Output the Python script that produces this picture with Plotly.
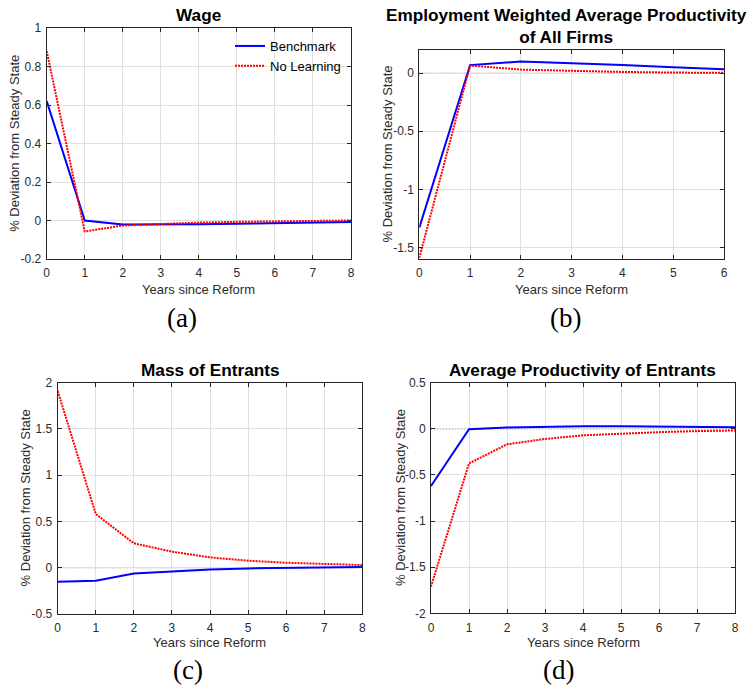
import plotly.graph_objects as go

# ---------------- data ----------------
years8 = [0, 1, 2, 3, 4, 5, 6, 7, 8]
years6 = [0, 1, 2, 3, 4, 5, 6]

wage_bench = [0.62, 0.0, -0.021, -0.021, -0.02, -0.017, -0.014, -0.011, -0.008]
wage_nolearn = [0.88, -0.057, -0.026, -0.017, -0.011, -0.007, -0.004, -0.002, 0.0]

prod_bench = [-1.33, 0.07, 0.10, 0.088, 0.071, 0.051, 0.034]
prod_nolearn = [-1.59, 0.066, 0.031, 0.02, 0.011, 0.006, 0.003]

mass_bench = [-0.152, -0.141, -0.062, -0.036, -0.018, -0.007, -0.003, 0.003, 0.007]
mass_nolearn = [1.91, 0.58, 0.264, 0.174, 0.112, 0.076, 0.054, 0.04, 0.029]

entprod_bench = [-0.62, -0.004, 0.014, 0.025, 0.029, 0.029, 0.025, 0.02, 0.016]
entprod_nolearn = [-1.71, -0.375, -0.168, -0.11, -0.071, -0.05, -0.036, -0.025, -0.018]

titles = ["Wage", "Employment Weighted Average Productivity<br>of All Firms",
          "Mass of Entrants", "Average Productivity of Entrants"]
captions = ["(a)", "(b)", "(c)", "(d)"]
series_names = ["Benchmark", "No Learning"]

ytick_a = [-0.2, 0, 0.2, 0.4, 0.6, 0.8, 1]
ytick_a_text = ["-0.2", "0", "0.2", "0.4", "0.6", "0.8", "1"]
ytick_b = [-1.5, -1, -0.5, 0]
ytick_b_text = ["-1.5", "-1", "-0.5", "0"]
ytick_c = [-0.5, 0, 0.5, 1, 1.5, 2]
ytick_c_text = ["-0.5", "0", "0.5", "1", "1.5", "2"]
ytick_d = [-2, -1.5, -1, -0.5, 0, 0.5]
ytick_d_text = ["-2", "-1.5", "-1", "-0.5", "0", "0.5"]

W, H = 749, 685


def px(x):
    return x / W


def py(y):
    return 1 - y / H


fig = go.Figure()

BLUE = "#0000ff"
RED = "#ff0000"
AXC = "#262626"
GRID = "#e0e0e0"
SANS = "Liberation Sans, Arial, sans-serif"

panels = [
    (years8, wage_bench, wage_nolearn, "x", "y", (46.7, 351), (28, 259), [-0.2, 1], [0, 8], ytick_a, ytick_a_text),
    (years6, prod_bench, prod_nolearn, "x2", "y2", (419.3, 724), (50, 259), [-1.6, 0.2], [0, 6], ytick_b, ytick_b_text),
    (years8, mass_bench, mass_nolearn, "x3", "y3", (57.7, 362.3), (382.7, 614), [-0.5, 2], [0, 8], ytick_c, ytick_c_text),
    (years8, entprod_bench, entprod_nolearn, "x4", "y4", (431, 735), (382.7, 613.3), [-2, 0.5], [0, 8], ytick_d, ytick_d_text),
]

layout_axes = {}
for i, (xs, b, n, xa, ya, xd, yd, yr, xr, yt, ytt) in enumerate(panels):
    fig.add_shape(type="line", xref=f"{xa} domain", yref=ya, x0=0, x1=1, y0=0, y1=0,
                  line=dict(color="#333333", width=1, dash="1px,2px"), layer="below")
    fig.add_trace(go.Scatter(x=xs, y=b, mode="lines", name=series_names[0],
                             line=dict(color=BLUE, width=2), xaxis=xa, yaxis=ya,
                             showlegend=(i == 0)))
    fig.add_trace(go.Scatter(x=xs, y=n, mode="lines", name=series_names[1],
                             line=dict(color=RED, width=2, dash="2px,1px"), xaxis=xa, yaxis=ya,
                             showlegend=(i == 0)))
    xkey = "xaxis" + ("" if i == 0 else str(i + 1))
    ykey = "yaxis" + ("" if i == 0 else str(i + 1))
    common = dict(showline=True, linecolor=AXC, linewidth=1, mirror="ticks",
                  ticks="inside", ticklen=4, tickcolor=AXC, tickwidth=1,
                  showgrid=True, gridcolor=GRID, gridwidth=1, zeroline=False,
                  automargin=False,
                  tickfont=dict(family=SANS, size=12, color="#2b2b2b"))
    layout_axes[xkey] = dict(domain=[px(xd[0]), px(xd[1])], range=xr, anchor=ya,
                             tickmode="linear", tick0=0, dtick=1, ticklabelstandoff=3, **common)
    layout_axes[ykey] = dict(domain=[py(yd[1]), py(yd[0])], range=yr, anchor=xa,
                             tickmode="array", tickvals=yt, ticktext=ytt, ticklabelstandoff=2, **common)

fig.update_layout(**layout_axes)

ann = []
title_pos = [(198, 15), (566, 25.7), (210, 370), (582.7, 370)]
for t, (x, y) in zip(titles, title_pos):
    ann.append(dict(text=f"<b>{t}</b>", x=px(x), y=py(y), xref="paper", yref="paper",
                    xanchor="center", yanchor="middle", showarrow=False,
                    font=dict(family=SANS, size=17.2, color="black")))

xlab_pos = [(198.9, 289), (571.7, 289), (210, 642.7), (583, 642.7)]
for (x, y) in xlab_pos:
    ann.append(dict(text="Years since Reform", x=px(x), y=py(y), xref="paper", yref="paper",
                    xanchor="center", yanchor="middle", showarrow=False,
                    font=dict(family=SANS, size=13, color="#2b2b2b")))

ylab_pos = [(14.3, 143.5), (387, 154.5), (25, 498.4), (400, 498)]
for (x, y) in ylab_pos:
    ann.append(dict(text="% Deviation from Steady State", x=px(x), y=py(y), xref="paper", yref="paper",
                    xanchor="center", yanchor="middle", showarrow=False, textangle=-90,
                    font=dict(family=SANS, size=13, color="#2b2b2b")))

cap_pos = [(181.7, 318), (565, 318), (188, 670), (558, 670)]
for c, (x, y) in zip(captions, cap_pos):
    ann.append(dict(text=c, x=px(x), y=py(y), xref="paper", yref="paper",
                    xanchor="center", yanchor="middle", showarrow=False,
                    font=dict(family="Liberation Serif, Times New Roman, serif", size=27, color="black")))

fig.update_layout(
    width=W, height=H,
    margin=dict(l=0, r=0, t=0, b=0, pad=0, autoexpand=False),
    paper_bgcolor="white", plot_bgcolor="white",
    annotations=ann,
    showlegend=True,
    legend=dict(x=px(230), y=py(31), xanchor="left", yanchor="top",
                bgcolor="rgba(0,0,0,0)", borderwidth=0,
                font=dict(family=SANS, size=13, color="black"),
                tracegroupgap=0, itemwidth=30),
)

fig.write_html("out.html", config={"displayModeBar": False},
               post_script="document.body.style.margin='0';document.body.style.overflow='hidden';")
